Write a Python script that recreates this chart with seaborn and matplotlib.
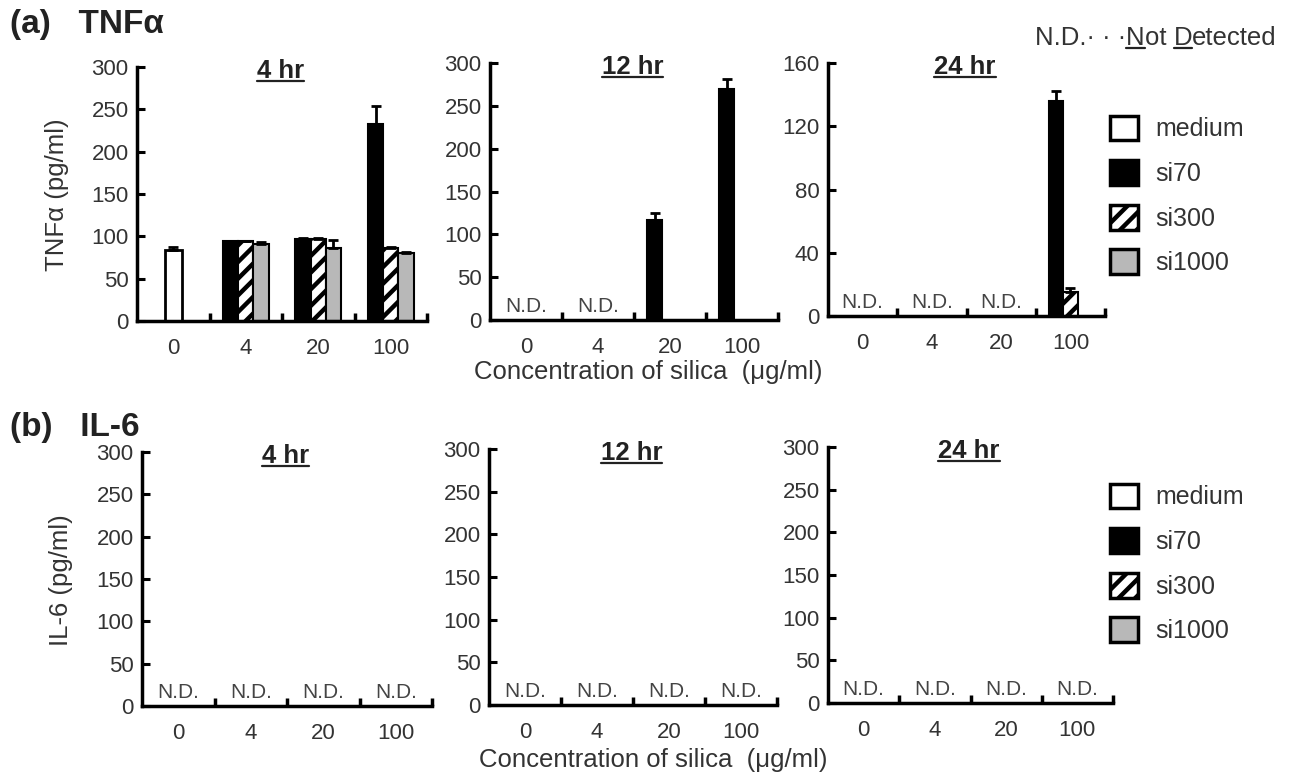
import numpy as np
import pandas as pd
import seaborn as sns
import matplotlib.pyplot as plt
from matplotlib.patches import Patch
from matplotlib.lines import Line2D
from matplotlib.transforms import IdentityTransform

# categories
concs = ['0', '4', '20', '100']
groups = ['si70', 'si300', 'si1000']
times = ['4 hr', '12 hr', '24 hr']

# TNFa (pg/ml); None = not detected. rows = time, columns = 4, 20, 100 ug/ml
tnf_medium = [83.5, None, None]
tnf_medium_err = [4, None, None]
tnf_si70 = [[94, 97, 233], [None, 117, 270], [None, None, 136]]
tnf_si70_err = [[1, 1, 21], [None, 8, 11], [None, None, 6]]
tnf_si300 = [[94, 97, 86], [None, None, None], [None, None, 15]]
tnf_si300_err = [[1, 1, 1], [None, None, None], [None, None, 3]]
tnf_si1000 = [[91, 86, 80], [None, None, None], [None, None, None]]
tnf_si1000_err = [[2, 10, 1], [None, None, None], [None, None, None]]
tnf_ymax = [300, 300, 160]
tnf_yticks = [[0, 50, 100, 150, 200, 250, 300],
              [0, 50, 100, 150, 200, 250, 300],
              [0, 40, 80, 120, 160]]

# IL-6 (pg/ml): nothing detected at any time point
il6_medium = [None, None, None]
il6_si70 = [[None, None, None], [None, None, None], [None, None, None]]
il6_si300 = [[None, None, None], [None, None, None], [None, None, None]]
il6_si1000 = [[None, None, None], [None, None, None], [None, None, None]]
il6_yticks = [0, 50, 100, 150, 200, 250, 300]

palette = {'si70': 'black', 'si300': 'white', 'si1000': '#b8b8b8'}
BAR_W = 0.63

sns.set_theme(style='white')
plt.rcParams['font.family'] = ['Liberation Sans', 'DejaVu Sans']
plt.rcParams['hatch.linewidth'] = 3.2
plt.rcParams['hatch.color'] = 'black'

W, H = 1298, 778
fig = plt.figure(figsize=(W / 100, H / 100), dpi=100)
TXT = '#333333'


def px_axes(l, r, t, b):
    return fig.add_axes([l / W, 1 - b / H, (r - l) / W, (b - t) / H])


def draw_panel(ax, medium, medium_err, si, si_err, ymax, yticks, title):
    rows = []
    if medium is not None:
        rows.append(('0', 'medium', medium, medium_err))
    for g, vals, errs in zip(groups, si, si_err):
        for c, v, e in zip(concs[1:], vals, errs):
            if v is not None:
                rows.append((c, g, v, e))
    df = pd.DataFrame(rows, columns=['conc', 'group', 'value', 'err'])

    sil = df[df.group != 'medium']
    if len(sil):
        sns.barplot(data=sil, x='conc', y='value', hue='group', order=concs,
                    hue_order=groups, palette=palette, width=BAR_W, dodge=True,
                    saturation=1, edgecolor='black', linewidth=1.5,
                    errorbar=None, legend=False, ax=ax)
    n_sil = len(ax.patches)
    med = df[df.group == 'medium']
    if len(med):
        sns.barplot(data=med, x='conc', y='value', order=concs, color='white',
                    width=0.23, saturation=1, edgecolor='black', linewidth=2,
                    errorbar=None, ax=ax)

    # hatch + upward error bars, matched to the data row by bar position
    for i, p in enumerate(list(ax.patches)):
        h = p.get_height()
        if not np.isfinite(h) or h <= 0:
            continue
        xc = p.get_x() + p.get_width() / 2
        ci = int(round(xc))
        if i < n_sil:
            g = groups[int(round((xc - ci) / (BAR_W / 3))) + 1]
        else:
            g = 'medium'
        sel = df[(df.conc == concs[ci]) & (df.group == g)]
        if not len(sel):
            continue
        if g == 'si300':
            p.set_hatch('//')
        ax.errorbar([xc], [h], yerr=[[0], [sel.err.iloc[0]]], fmt='none',
                    ecolor='black', elinewidth=2, capsize=3.5, capthick=2,
                    zorder=3)

    # N.D. labels where a whole category is missing
    for ci, c in enumerate(concs):
        if c == '0':
            nd = medium is None
        else:
            nd = all(s[ci - 1] is None for s in si)
        if nd:
            ax.annotate('N.D.', xy=(ci, 0), xytext=(0, 4),
                        textcoords='offset pixels', ha='center', va='bottom',
                        fontsize=15, color='#444444', annotation_clip=False)

    ax.set_xlim(-0.5, 3.5)
    ax.set_ylim(0, ymax)
    ax.set_yticks(yticks)
    ax.set_xticks(range(4))
    ax.set_xticklabels(concs)
    ax.set_xticks([0.5, 1.5, 2.5, 3.5], minor=True)
    ax.set_xlabel('')
    ax.set_ylabel('')
    for s in ['top', 'right']:
        ax.spines[s].set_visible(False)
    for s in ['left', 'bottom']:
        ax.spines[s].set_linewidth(2.5)
        ax.spines[s].set_color('black')
    ax.tick_params(axis='x', which='major', bottom=True, length=0, pad=12,
                   labelsize=16, labelcolor=TXT)
    ax.tick_params(axis='x', which='minor', bottom=True, direction='in',
                   length=6, width=2.5, color='black')
    ax.tick_params(axis='y', left=True, direction='in', length=6, width=2.2,
                   color='black', pad=6, labelsize=16, labelcolor=TXT)
    t = ax.text(0.495, 0.985, title, transform=ax.transAxes, ha='center',
                va='center', fontsize=18.5, fontweight='bold', color='#222222')
    return t


titles = []
top_boxes = [(137, 427, 67, 321), (490, 778, 63, 320), (828, 1105, 63, 316)]
bot_boxes = [(142, 432, 452, 706), (489, 777, 449, 705), (828, 1113, 447, 703)]

for i, box in enumerate(top_boxes):
    ax = px_axes(*box)
    si = [tnf_si70[i], tnf_si300[i], tnf_si1000[i]]
    si_err = [tnf_si70_err[i], tnf_si300_err[i], tnf_si1000_err[i]]
    titles.append(draw_panel(ax, tnf_medium[i], tnf_medium_err[i], si, si_err,
                             tnf_ymax[i], tnf_yticks[i], times[i]))

for i, box in enumerate(bot_boxes):
    ax = px_axes(*box)
    si = [il6_si70[i], il6_si300[i], il6_si1000[i]]
    titles.append(draw_panel(ax, il6_medium[i], None, si, si,
                             300, il6_yticks, times[i]))

# figure texts
fig.text(10 / W, 1 - 24 / H, '(a)   TNFα', fontsize=24, fontweight='bold',
         va='center', color='#222222')
fig.text(10 / W, 1 - 427 / H, '(b)   IL-6', fontsize=24, fontweight='bold',
         va='center', color='#222222')
fig.text(57 / W, 1 - 195 / H, 'TNFα (pg/ml)', rotation=90, ha='center',
         va='center', fontsize=18.5, color=TXT)
fig.text(61 / W, 1 - 580 / H, 'IL-6 (pg/ml)', rotation=90, ha='center',
         va='center', fontsize=18.5, color=TXT)
fig.text(648 / W, 1 - 372 / H, 'Concentration of silica  (μg/ml)',
         ha='center', va='center', fontsize=18.5, color=TXT)
fig.text(653 / W, 1 - 760 / H, 'Concentration of silica  (μg/ml)',
         ha='center', va='center', fontsize=18.5, color=TXT)

# "N.D. ... Not Detected" note
note_parts = ['N.D.\u00b7 \u00b7 \u00b7', 'N', 'ot ', 'D', 'etected']
prev = fig.text(1035 / W, 1 - 38 / H, note_parts[0], fontsize=18.5,
                va='center', color=TXT)
note_texts = [prev]
for part in note_parts[1:]:
    prev = fig.axes[-1].annotate(part, xy=(1, 0), xycoords=prev, va='bottom',
                                 ha='left', fontsize=18.5, color=TXT,
                                 annotation_clip=False)
    note_texts.append(prev)

# legends
for y0 in [93, 461]:
    handles = [Patch(facecolor='white', edgecolor='black', linewidth=2.5),
               Patch(facecolor='black', edgecolor='black', linewidth=2.5),
               Patch(facecolor='white', edgecolor='black', linewidth=2.5, hatch='//'),
               Patch(facecolor='#b8b8b8', edgecolor='black', linewidth=2.5)]
    fig.legend(handles, ['medium', 'si70', 'si300', 'si1000'], loc='upper left',
               bbox_to_anchor=(1087 / W, 1 - y0 / H), frameon=False,
               fontsize=18, handlelength=1.15, handleheight=1.15,
               labelspacing=0.75, handletextpad=0.7, labelcolor=TXT)

# underlines
fig.canvas.draw()
renderer = fig.canvas.get_renderer()
for t in titles + [note_texts[1], note_texts[3]]:
    bb = t.get_window_extent(renderer)
    y = bb.y0 + 2
    fig.add_artist(Line2D([bb.x0, bb.x1], [y, y], transform=IdentityTransform(),
                          color='#222222', linewidth=1.6))

fig.savefig('out.png', dpi=100)
